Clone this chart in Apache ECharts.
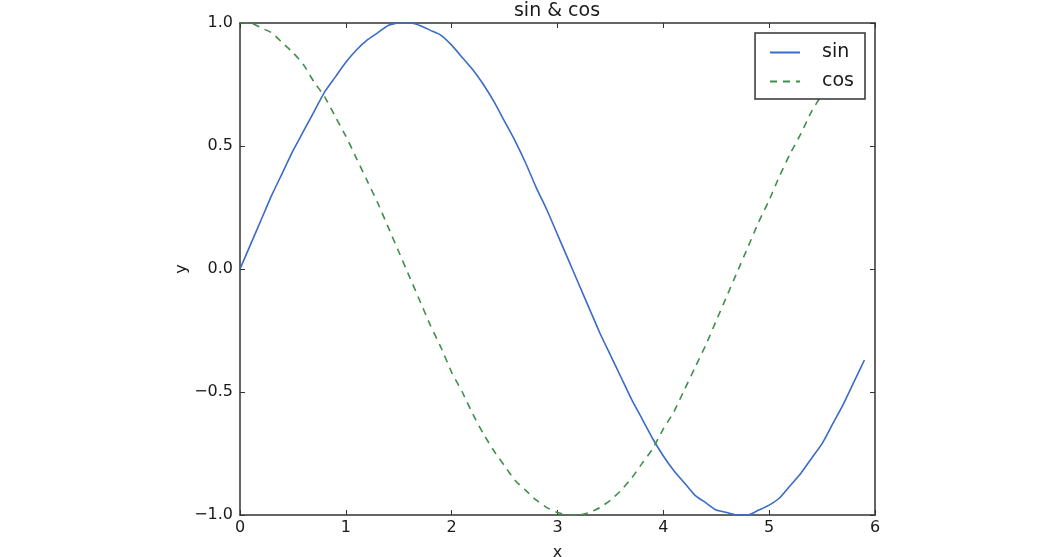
<!DOCTYPE html>
<html>
<head>
<meta charset="utf-8">
<script src="https://cdn.jsdelivr.net/npm/echarts@6/dist/echarts.min.js"></script>
<style>
html, body { margin: 0; padding: 0; background: #fff; }
#main { width: 1053px; height: 557px; }
</style>
</head>
<body>
<div id="main"></div>
<script>
// x positions, sampled every 0.1
var xs = [0.0, 0.1, 0.2, 0.3, 0.4, 0.5, 0.6, 0.7, 0.8, 0.9,
          1.0, 1.1, 1.2, 1.3, 1.4, 1.5, 1.6, 1.7, 1.8, 1.9,
          2.0, 2.1, 2.2, 2.3, 2.4, 2.5, 2.6, 2.7, 2.8, 2.9,
          3.0, 3.1, 3.2, 3.3, 3.4, 3.5, 3.6, 3.7, 3.8, 3.9,
          4.0, 4.1, 4.2, 4.3, 4.4, 4.5, 4.6, 4.7, 4.8, 4.9,
          5.0, 5.1, 5.2, 5.3, 5.4, 5.5, 5.6, 5.7, 5.8, 5.9];

var sinValues = [0.00, 0.10, 0.20, 0.30, 0.39, 0.48, 0.56, 0.64, 0.72, 0.78,
                 0.84, 0.89, 0.93, 0.96, 0.99, 1.00, 1.00, 0.99, 0.97, 0.95,
                 0.91, 0.86, 0.81, 0.75, 0.68, 0.60, 0.52, 0.43, 0.33, 0.24,
                 0.14, 0.04, -0.06, -0.16, -0.26, -0.35, -0.44, -0.53, -0.61, -0.69,
                 -0.76, -0.82, -0.87, -0.92, -0.95, -0.98, -0.99, -1.00, -1.00, -0.98,
                 -0.96, -0.93, -0.88, -0.83, -0.77, -0.71, -0.63, -0.55, -0.46, -0.37];

var cosValues = [1.00, 1.00, 0.98, 0.96, 0.92, 0.88, 0.83, 0.76, 0.70, 0.62,
                 0.54, 0.45, 0.36, 0.27, 0.17, 0.07, -0.03, -0.13, -0.23, -0.32,
                 -0.42, -0.50, -0.59, -0.67, -0.74, -0.80, -0.86, -0.90, -0.94, -0.97,
                 -0.99, -1.00, -1.00, -0.99, -0.97, -0.94, -0.90, -0.85, -0.79, -0.73,
                 -0.65, -0.58, -0.49, -0.40, -0.31, -0.21, -0.11, -0.01, 0.09, 0.19,
                 0.28, 0.38, 0.47, 0.55, 0.64, 0.71, 0.78, 0.84, 0.89, 0.93];

var seriesNames = ['sin', 'cos'];

function pairs(ys) {
    var out = [];
    for (var i = 0; i < xs.length; i++) out.push([xs[i], ys[i]]);
    return out;
}

var font = 'DejaVu Sans';
var ink = '#1a1a1a';
var frame = '#333';

function fmtY(v) {
    return v.toFixed(1).replace('-', '\u2212');
}

var tick = { inside: true, length: 5, lineStyle: { color: frame, width: 1 } };

var option = {
    animation: false,
    backgroundColor: '#fff',
    title: {
        text: 'sin & cos',
        left: 557,
        top: 2,
        textAlign: 'center',
        padding: 0,
        textStyle: { color: ink, fontFamily: font, fontWeight: 'normal', fontSize: 19 }
    },
    legend: {
        data: seriesNames,
        orient: 'vertical',
        right: 188,
        top: 33,
        padding: [10, 11, 8, 14],
        itemWidth: 30,
        itemHeight: 14,
        itemGap: 10,
        backgroundColor: '#fff',
        borderColor: frame,
        borderWidth: 1.5,
        borderRadius: 0,
        z: 10,
        itemStyle: { color: 'rgba(0,0,0,0)', borderWidth: 0, opacity: 0 },
        textStyle: { color: ink, fontFamily: font, fontSize: 19, padding: [0, 0, 0, 17] }
    },
    grid: { left: 240, right: 178, top: 23, bottom: 42, outerBoundsMode: 'none' },
    xAxis: [{
        type: 'value',
        min: 0, max: 6, interval: 1,
        name: 'x',
        nameLocation: 'middle',
        nameGap: 30,
        nameTextStyle: { color: ink, fontFamily: font, fontSize: 16 },
        axisLine: { onZero: false, lineStyle: { color: frame, width: 1.5 } },
        axisTick: tick,
        axisLabel: { color: ink, fontFamily: font, fontSize: 16, margin: 5 },
        splitLine: { show: false }
    }, {
        type: 'value',
        position: 'top',
        min: 0, max: 6, interval: 1,
        axisLine: { onZero: false, lineStyle: { color: frame, width: 1.5 } },
        axisTick: tick,
        axisLabel: { show: false },
        splitLine: { show: false }
    }],
    yAxis: [{
        type: 'value',
        min: -1, max: 1, interval: 0.5,
        name: 'y',
        nameLocation: 'middle',
        nameGap: 50,
        nameMoveOverlap: false,
        nameTextStyle: { color: ink, fontFamily: font, fontSize: 16 },
        axisLine: { show: true, onZero: false, lineStyle: { color: frame, width: 1.5 } },
        axisTick: Object.assign({ show: true }, tick),
        axisLabel: { color: ink, fontFamily: font, fontSize: 16, margin: 7, formatter: fmtY },
        splitLine: { show: false }
    }, {
        type: 'value',
        position: 'right',
        min: -1, max: 1, interval: 0.5,
        axisLine: { show: true, onZero: false, lineStyle: { color: frame, width: 1.5 } },
        axisTick: Object.assign({ show: true }, tick),
        axisLabel: { show: false },
        splitLine: { show: false }
    }],
    series: [{
        name: seriesNames[0],
        type: 'line',
        data: pairs(sinValues),
        symbol: 'none',
        smooth: 0.2,
        color: '#3a6bc6',
        lineStyle: { color: '#3a6bc6', width: 1.6 }
    }, {
        name: seriesNames[1],
        type: 'line',
        data: pairs(cosValues),
        symbol: 'none',
        smooth: 0.2,
        color: '#3d8f4a',
        lineStyle: { color: '#3d8f4a', width: 1.6, type: [7, 6] }
    }]
};

var chart = echarts.init(document.getElementById('main'));
chart.setOption(option);
</script>
</body>
</html>
